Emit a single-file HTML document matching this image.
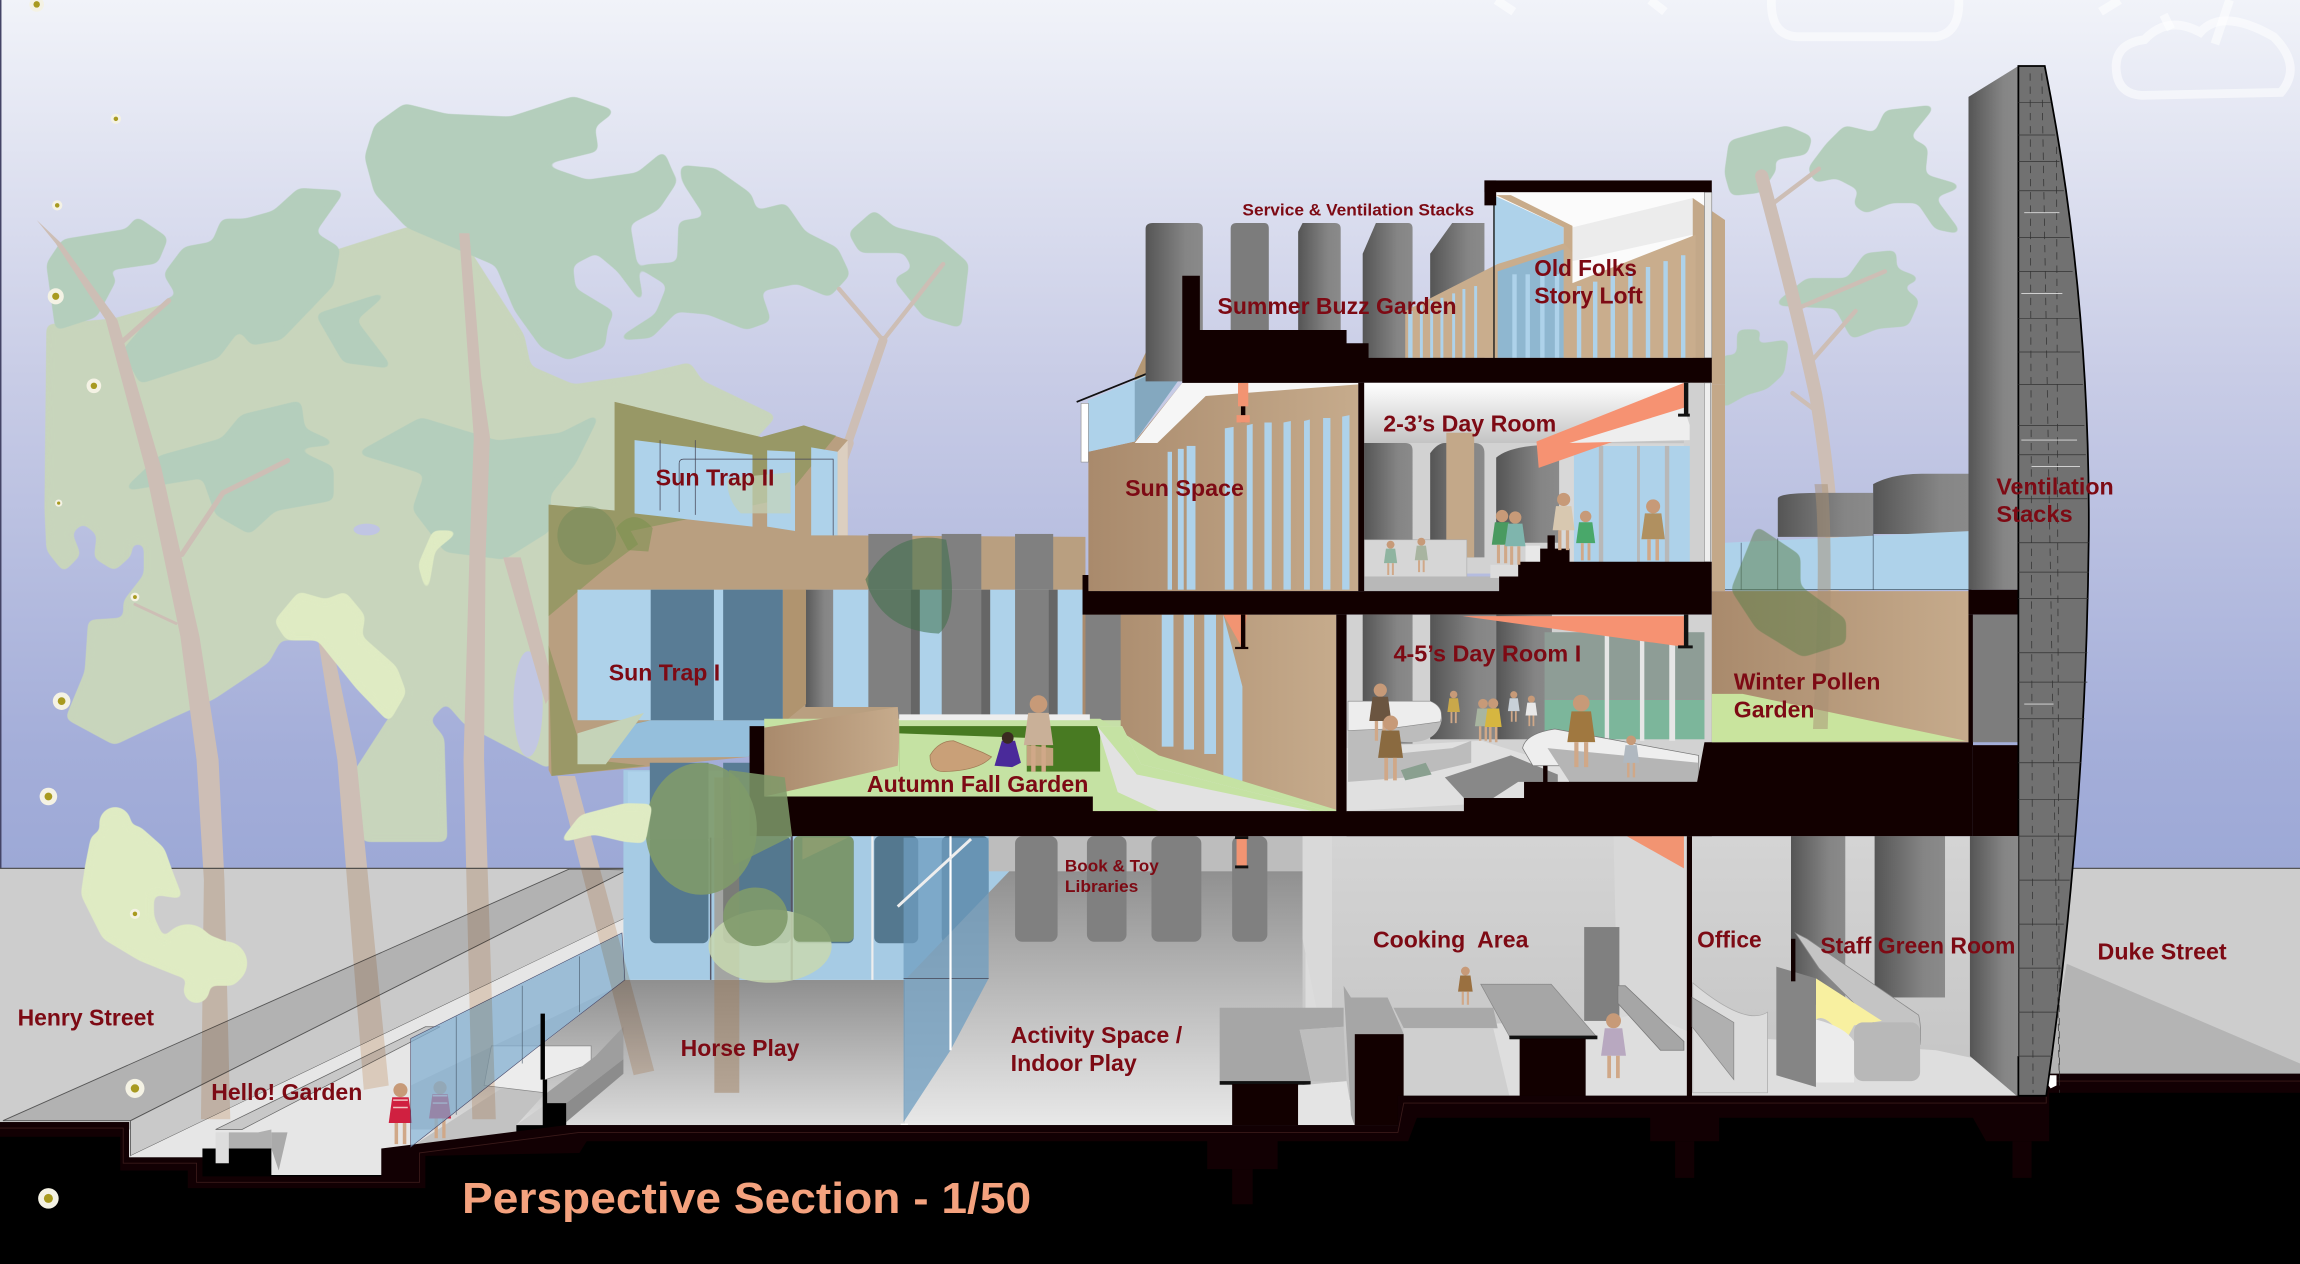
<!DOCTYPE html>
<html><head><meta charset="utf-8"><style>
html,body{margin:0;padding:0;background:#fff}
svg{display:block}
text{font-family:"Liberation Sans",sans-serif;font-weight:bold;fill:#7d0a14;font-size:15.5px}
</style></head><body>
<svg width="2300" height="1264" viewBox="0 0 1568 861.7" xmlns="http://www.w3.org/2000/svg">
<defs>
<linearGradient id="sky" x1="0" y1="0" x2="0" y2="1"><stop offset="0" stop-color="#f1f3f9"/><stop offset=".43" stop-color="#c8cce6"/><stop offset=".85" stop-color="#a4aed9"/><stop offset="1" stop-color="#9ca8d6"/></linearGradient>
<linearGradient id="tan" x1="0" y1="0" x2="1" y2="0"><stop offset="0" stop-color="#a98a6c"/><stop offset="1" stop-color="#c6ab8c"/></linearGradient>
<linearGradient id="col" x1="0" y1="0" x2="1" y2="0"><stop offset="0" stop-color="#555"/><stop offset=".7" stop-color="#858585"/><stop offset="1" stop-color="#8a8a8a"/></linearGradient>
<linearGradient id="floor" x1="0" y1="0" x2="0" y2="1"><stop offset="0" stop-color="#8f8f8f"/><stop offset="1" stop-color="#e8e8e8"/></linearGradient>
<linearGradient id="ceil" x1="0" y1="0" x2="0" y2="1"><stop offset="0" stop-color="#fff"/><stop offset="1" stop-color="#c4c4c4"/></linearGradient>
<linearGradient id="wall" x1="0" y1="0" x2="0" y2="1"><stop offset="0" stop-color="#d4d4d4"/><stop offset="1" stop-color="#c4c4c4"/></linearGradient>
<filter id="r" x="-10%" y="-10%" width="120%" height="120%" color-interpolation-filters="sRGB"><feGaussianBlur stdDeviation="2.6"/><feComponentTransfer><feFuncA type="linear" slope="10" intercept="-4.5"/></feComponentTransfer></filter>
<g id="k"><circle cx="0" cy="-23" r="3" fill="#c79a78"/><path d="M-3.5,-20 L3.5,-20 L5,-9 L-5,-9 Z" fill="currentColor"/><path d="M-2.5,-9 L-1,-9 L-1,0 L-2.5,0 Z M1,-9 L2.5,-9 L2.5,0 L1,0 Z" fill="#d0a888"/></g>
<g id="d"><circle r="5" fill="#f4f2e4"/><circle r="2.2" fill="#a89a20"/></g>
<g id="tr">
<polygon points="25,150 38,166 72,218 99,319 123,434 134,518 139,600 137,763 157,763 153,600 149,518 136,434 110,319 80,218 42,166"/>
<polygon points="313,159 320,257 323,298 320,380 316,518 322,763 338,763 330,518 331,380 334,298 328,257 320,159"/>
<polygon points="343,380 355,380 378,470 372,480"/>
<polygon points="380,529 392,529 446,730 432,733"/>
<polygon points="217,437 226,437 243,518 265,740 248,743 230,518"/>
</g>
<clipPath id="below"><rect x="0" y="592" width="1568" height="270"/></clipPath>
</defs>

<!-- sky -->
<rect width="1568" height="600" fill="url(#sky)"/>
<rect width="1" height="600" fill="#446"/>
<g fill="none" stroke="#fff" stroke-opacity=".55" stroke-width="6">
<path d="M1208,-5 Q1205,24 1225,25 L1320,25 Q1338,22 1335,-5"/>
<path d="M1020,0 L1032,8 M1125,0 L1135,8"/>
<path d="M1443,50 Q1440,30 1462,27 Q1478,10 1500,22 Q1515,5 1550,25 Q1570,45 1555,63 L1460,65 Q1445,64 1443,50 Z"/>
<path d="M1432,8 L1445,0 M1480,20 L1475,10 M1510,30 L1520,0"/>
</g>

<!-- tree mass (behind building, flat colours) -->
<polygon filter="url(#r)" fill="#c8d5bc" stroke="#c8d5bc" stroke-width="2" stroke-linejoin="round" points="32.6,222 31.3,347 32.6,375 43.5,388.7 54,378 48,363 56.5,355.6 67,364 65,380 78,388 89,378 89,370 99,370 99,392 85,410 85,422 61,423.5 58.7,458 45.7,489.5 78,507 115,489.5 145.7,475.7 182.6,451 191,435.6 217,435.6 278,472 265,491 241,528 248,573 304,573 302,503 292,491 304,478 317,493 374,523 420,400 528,284 478,260 470,248 435,256.5 391,263 361,250 356.5,228.7 308.7,154 278,155.7 230,171 126,204 78,218"/>
<g filter="url(#r)" fill="#b4cebc" stroke="#b4cebc" stroke-width="3" stroke-linejoin="round">
<polygon points="276,72 304,79 348,81 391,67 417,76 404,86 406.5,102 365,112 400,124 435,119 452,105 460,124 448,142 428,152 437,204 422,184 406.5,171 389,180 391,197.4 417,213 413,222 411,236 387,244 370,236 352,211 339,180 278,154 256.5,131 250,107 256.5,86"/>
<polygon points="465,114 487,116 511,133 515,145 535,140 548,159 570,170 578,187 565,201 543.5,192 517,197.4 524,218 509,223.5 483,213 461,211 443.5,229 424,230.5 448,215 456.5,194 437,182 463,180 464,152 483,149 467,124.4"/>
<polygon points="580,159 596,145 609,156 639,163 659,180 654,222 630.5,215 611,190.5 624,183.5 617,171 587,171"/>
<polygon points="33,180 43.5,164.4 87,157.4 93.5,149.4 113,162.6 106.5,178.3 69.6,183.5 78,190.5 65,215 39,223.5"/>
<polygon points="113,187 126,169.6 145.7,166 152,150.5 167.4,150.5 187,145 204,129.6 232.6,131.3 213,159 230.4,169.6 226,194 191,230.5 172,234 148,204.4 126,208"/>
<polygon points="85,239 115,204 148,204 172,211 148,243 96,260"/>
<polygon points="217,215 261,201 241,218 265,249.6 235,246"/>
<polygon points="87,333 109,312 152,300 165,284 204,274.6 206.5,293 226,302 196,305 226,319 226,340 187,347 170,362.6 148,350 139,324.4"/>
<polygon points="246,308.7 287,286 339,301.8 382.6,296.5 406.5,284.4 391,315.7 374,336.5 374,361 343.5,380 304,375 282.6,347 291,322.6 269.6,315.7"/>
<polygon points="1177,118 1180,97 1198,92 1218,87 1234,94 1231,104 1207,108 1210,115 1200,130 1181,132"/>
<polygon points="1234,115 1246,99 1258,87 1279,92 1286,76.5 1317,73 1300,94 1313,101 1311,120 1335,127 1317,134 1335,158 1320,155 1308,137 1289,137 1272,144 1265,139 1269,129 1252,120 1238,123"/>
<polygon points="1212,207 1232,191 1260,191 1272,174 1291.5,172 1291.5,184 1307,190 1294,195 1307,205 1300,221 1280,222.6 1263,229.5 1252,209"/>
<polygon points="1175,243.5 1185.6,243.5 1185.6,226 1199.7,226 1194,236.5 1218,233 1215,254 1204,264 1190,268 1175,276.5"/>
</g>
<ellipse cx="250" cy="361" rx="9" ry="4" fill="#c0c5e3"/>
<ellipse cx="360" cy="480" rx="10" ry="36" fill="#c2c7e2"/>
<!-- branches -->
<g fill="none" stroke="#cdbeb5" stroke-linecap="round">
<path d="M81,235 L115,205" stroke-width="3.5"/>
<path d="M124,378 L152,336 L196,314" stroke-width="3.5"/>
<path d="M92,412 L120,425" stroke-width="2"/>
<path d="M572,197 L602,232 L643,180" stroke-width="3"/>
<path d="M578,302 L602,232" stroke-width="6"/>
<path d="M578,302 L556,364" stroke-width="8"/>
<path d="M1207,140 L1240,115 M1226,210 L1285,185 M1236,245 L1265,212 M1222,268 L1238,280" stroke-width="3"/>
<path d="M1201,120 Q1225,210 1238,270 Q1250,340 1250,400" stroke-width="9"/>
</g>
<use href="#tr" fill="#cdbeb5"/>
<g filter="url(#r)" fill="#dfebc3" stroke="#dfebc3" stroke-width="2" stroke-linejoin="round">
<polygon points="188,423.5 204,404.3 222,409.6 235,404.3 248,420 245.7,434 269.6,455 276,472 265,491 243.5,468.7 217,435.6 195.7,435.6"/>
<polygon points="311,362.6 295.7,362.6 286,385 291,402.6 295.7,375"/>
</g>

<!-- ground -->
<path d="M0,592 L430,592 L430,770 L0,770 Z" fill="#cdcdcd"/>
<path d="M1395,592 L1568,592 L1568,735 L1395,735 Z" fill="#cdcdcd"/>
<path d="M1409,657 L1568,725 L1568,733 L1395,733 Z" fill="#b4b4b4"/>
<path d="M0,592 H425 M1395,592 H1568" stroke="#555" stroke-width=".8"/>
<path d="M2,764 L388,592.5 L428,593 L89,764 Z" fill="#b2b2b2" stroke="#555" stroke-width=".6"/>
<path d="M89,764 L428,593 L426,626 L89,788 Z" fill="#c9c9c9" stroke="#555" stroke-width=".6"/>
<path d="M89,788 L426,626 L426,670 L280,740 L280,783 L260,783 L260,801 L185,801 L185,783 L138,783 L138,789 L89,789 Z" fill="#e6e6e6"/>
<path d="M147,770 L290,700 L300,700 L165,770 Z" fill="#c8c8c8" stroke="#666" stroke-width=".5"/>
<path d="M147,783 L147,772 L156,772 L156,793 L147,793 Z" fill="#ddd"/>
<path d="M156,772 L176,772 L185,770 L185,783 L156,783 Z" fill="#b0b0b0"/>
<path d="M185,783 L185,772 L196,772 L190,798 Z" fill="#aaa"/>
<path d="M280,782 L426,668 L617,668 L617,767 L386,767 L386,752 L373,752 L352,767 L352,783 Z" fill="url(#floor)"/>
<path d="M280,782 L352,782 L352,767 L372,745 L345,740 Z" fill="#c2c2c2"/>
<path d="M335,713 L403,713 L403,725 L372,736 L372,745 L330,740 Z" fill="#ececec" stroke="#888" stroke-width=".5"/>
<path d="M372,752 L386,752 L425,722 L425,700 L406,720 L373,745 Z" fill="#9e9e9e"/>
<path d="M386,752 L425,722 L425,732 L386,765 Z" fill="#8c8c8c"/>

<!-- ground floor back -->
<rect x="425" y="525" width="265" height="143" fill="#a6cbe4"/>
<g fill="#54788f">
<rect x="443" y="570" width="40" height="73" rx="4"/><rect x="493" y="570" width="46" height="73" rx="4"/><rect x="541" y="570" width="41" height="73" rx="4"/><rect x="596" y="570" width="30" height="73" rx="4"/><rect x="642" y="570" width="32" height="73" rx="4"/>
</g>
<rect x="484" y="570" width="1" height="98" fill="#556"/><rect x="539" y="570" width="1.5" height="98" fill="#556"/><rect x="594" y="570" width="1.5" height="98" fill="#eee"/>
<path d="M617,668 L690,592 L888,592 L915,700 L915,767 L617,767 Z" fill="url(#floor)"/>
<rect x="674" y="570" width="216" height="24" fill="#bdbdbd"/>
<g fill="#808080"><rect x="692" y="570" width="29" height="72" rx="5"/><rect x="741" y="570" width="27" height="72" rx="5"/><rect x="785" y="570" width="34" height="72" rx="5"/><rect x="840" y="570" width="24" height="72" rx="5"/></g>
<path d="M616,571 L674,571 L674,667 L648,716 L616,765 Z" fill="#6f9dc0" fill-opacity=".75"/>
<path d="M616,667 L674,667" stroke="#445" stroke-width=".5"/>
<path d="M648,570 V716" stroke="#fff" stroke-width="1.5"/>
<path d="M612,618 L662,572" stroke="#eee" stroke-width="2"/>
<rect x="614" y="766" width="5" height="5" fill="#fff"/>
<path d="M547,571 L578,571 L547,586 Z" fill="#f4b8a0"/>

<!-- cooking / office / staff -->
<rect x="888" y="570" width="490" height="180" fill="url(#wall)"/>
<rect x="890" y="570" width="18" height="125" fill="#dcdcdc"/>
<path d="M888,570 L888,640 L908,740 L908,570 Z" fill="#d9d9d9"/>
<path d="M1100,570 L1150,570 L1150,748 L1104,748 Z" fill="#d8d8d8"/>
<path d="M957,747 L1376,747 L1376,728 L1320,716 L1155,705 L1120,690 L1100,695 L957,700 Z" fill="#dedede"/>
<path d="M1109,570 L1148,570 L1148,592 Z" fill="#f29472"/>
<rect x="843" y="570" width="7" height="22" fill="#f29472"/><rect x="842" y="570" width="9" height="2" fill="#111"/><rect x="842" y="590" width="9" height="2" fill="#111"/>
<rect x="1080" y="632" width="24" height="64" fill="#808080"/>
<path d="M1103,672 L1108,672 L1148,710 L1148,716 L1132,716 L1103,684 Z" fill="#a6a6a6" stroke="#777" stroke-width=".5"/>
<path d="M831.5,687 L916,687 L916,700 L886,702 L893.7,737 L831.5,737 Z" fill="#a6a6a6"/>
<rect x="831.5" y="737" width="62" height="2.5" fill="#111"/>
<rect x="840" y="739" width="45" height="28" fill="#120000"/>
<path d="M886,702 L916,700 L918,738 L894,737 Z" fill="#bdbdbd"/>
<path d="M885,740 L918,737 L923,767 L885,767 Z" fill="#e4e4e4"/>
<path d="M916,672 L921,680 L946,680 L957,705 L923.6,705 L923.6,768 L921,760 Z" fill="#a6a6a6"/>
<rect x="923.6" y="705" width="33.4" height="62" fill="#120000"/>
<path d="M950,687 L1018,687 L1021,701 L957,701 Z" fill="#a9a9a9"/>
<path d="M957,701 L1018,701 L1029,747 L957,747 Z" fill="#cfcfcf"/>
<path d="M1009.5,671 L1057.5,671 L1088.6,707 L1029.3,707 Z" fill="#a6a6a6" stroke="#888" stroke-width=".5"/>
<rect x="1029" y="706" width="60" height="2.5" fill="#111"/>
<rect x="1036" y="708" width="45" height="40" fill="#120000"/>
<rect x="1150" y="570" width="3.5" height="178" fill="#120000"/>
<path d="M1154,670 Q1190,700 1205,690 L1205,745 L1154,745 Z" fill="#dcdcdc" stroke="#aaa" stroke-width=".5"/>
<path d="M1153.6,680 L1182,697 L1182,736 L1153.6,700 Z" fill="#b0b0b0" stroke="#888" stroke-width=".5"/>
<g fill="url(#col)"><rect x="1221" y="570" width="37" height="115"/><rect x="1278" y="570" width="48" height="110"/></g>
<path d="M1343,570 L1376,570 L1376,748 L1343,720 Z" fill="url(#col)"/>
<path d="M1224,636 L1232,640 L1308,692 Q1310,700 1309,712 L1280,700 L1240,660 Z" fill="#c4c4c4" stroke="#888" stroke-width=".5"/>
<path d="M1238,667 L1283,696 L1264,699 L1258,710 Q1245,690 1238,695 Z" fill="#f8f0a0"/>
<path d="M1238,695 Q1258,700 1264,710 L1264,738 L1238,738 Z" fill="#ececec"/>
<rect x="1264" y="697" width="45" height="40" rx="6" fill="#b8b8b8"/>
<path d="M1211,659 L1238,667 L1238,741 L1211,733 Z" fill="#858585"/>
<rect x="1221" y="640" width="3" height="29" fill="#120000"/>

<!-- foundation black -->
<path d="M0,765 L88,765 L88,789 L138,789 L138,783 L147,783 L147,793 L156,793 L156,783 L185,783 L185,801 L260,801 L260,783 L352,783 L352,767 L370,767 L370,736 L373,736 L373,752 L386,752 L386,767 L953,767 L953,747 L1376,747 L1395,732 L1568,732 L1568,862 L0,862 Z" fill="#000"/>
<path d="M0,765 L88,765 L88,789 L138,789 L138,802 L260,802 L260,783 L386,767 L953,767 L953,747 L1376,747 L1395,732 L1568,732 L1568,745 L1397,745 L1397,778 L1354,778 L1345,762 L1172,762 L1172,778 L1125,778 L1125,762 L966,762 L960,778 L871,778 L871,797 L823,797 L823,778 L400,778 L395,786 L290,788 L290,810 L128,810 L128,798 L82,798 L82,775 L0,775 Z" fill="#120003"/>
<path d="M0,769 L84,769 L84,793 L134,793 L134,806 L286,806 L286,786 L395,772 L953,772 L957,752 L1395,752 L1395,737 L1568,737" fill="none" stroke="#3a1a1a" stroke-width=".6"/>
<g fill="#120003"><rect x="840" y="797" width="14" height="24"/><rect x="1142" y="778" width="13" height="25"/><rect x="1372" y="778" width="13" height="25"/></g>
<path d="M1395,733 L1402,733 L1402,740 L1398,742 L1395,738 Z" fill="#fff"/>

<!-- autumn back -->
<rect x="548" y="402" width="192" height="85" fill="#aed2ea"/>
<path d="M548,402 H568 V487 H549 Z" fill="url(#col)"/>
<rect x="592" y="402" width="35" height="90" fill="#808080"/>
<rect x="621" y="402" width="6" height="90" fill="#666"/>
<rect x="642" y="402" width="33" height="90" fill="#808080"/>
<rect x="669" y="402" width="6" height="90" fill="#666"/>
<rect x="692" y="402" width="29" height="90" fill="#808080"/>
<rect x="715" y="402" width="6" height="90" fill="#666"/>
<rect x="740" y="402" width="10" height="90" fill="#808080"/>

<!-- sun trap -->
<path d="M374,344 L419,348 L419,274 L519,298 L548,290 L578,300 L578,365 L740,366 L740,402 L549,402 L549,482 L612,482 L612,495 L533,495 L510,516 L376,529 L374,525 Z" fill="#b99f80"/>
<path d="M374,344 L419,348 L419,274 L519,298 L548,290 L570,297 L535,340 L430,362 L435,371 L411,389 L374,420 Z" fill="#76904a" opacity=".48"/>
<path d="M374,440 L393.7,502 L443,491 L394,517 L440,522 L376,529 Z" fill="#76904a" opacity=".45"/>
<circle cx="400" cy="365" r="20" fill="#6f8a58" opacity=".45"/>
<path d="M420,360 Q432,345 445,360 L442,376 L428,375 Z" fill="#76904a" opacity=".5"/>
<path d="M432.6,300 L513,310 L513,359 L432.6,350 Z" fill="#aed2ea"/>
<path d="M523,307 L542,308 L542,362 L523,359 Z" fill="#aed2ea"/>
<path d="M553,305 L571,308 L571,365 L553,365 Z" fill="#aed2ea"/>
<path d="M571,308 L578,300 L578,365 L571,365 Z" fill="#fff" fill-opacity=".5"/>
<path d="M496,326 L539,322 L539,350 L505,350 Q495,340 496,326 Z" fill="#c5d3b8" opacity=".7"/>
<path d="M463,349 V316 Q463,313 466,313 L568,313 V365 M450,348 V300 M474,351 V300" fill="none" stroke="#445" stroke-width=".5"/>
<rect x="393.7" y="402" width="140" height="89" fill="#aed2ea"/>
<path d="M393.7,502 L443.6,491 L533.7,491 L510,516 L393.7,517 Z" fill="#95bfdc"/>
<rect x="443.6" y="402" width="43.1" height="89" fill="#597c95"/>
<rect x="493" y="402" width="40.7" height="89" fill="#597c95"/>
<path d="M393.7,500 L439,486 L413,521 L393.7,521 Z" fill="#c5d3b8"/>
<path d="M533.7,402 L549.5,402 L549.5,480 L533.7,493 Z" fill="#b0946f"/>
<rect x="428" y="526" width="82" height="45" fill="#aed2ea"/>
<g fill="#597c95"><rect x="443" y="520" width="40" height="52"/><rect x="493" y="520" width="40" height="52"/></g>
<g fill="#808080"><rect x="592" y="364" width="30" height="38"/><rect x="642" y="364" width="27" height="38"/><rect x="692" y="364" width="26" height="38"/></g>

<!-- sun space lower -->
<rect x="738" y="419" width="173" height="135" fill="url(#tan)"/>
<rect x="740" y="419" width="24" height="72" fill="#808080"/>
<path d="M740,491 H764 V500 H740 Z" fill="#c6dfa8"/>
<g fill="#aed2ea"><rect x="792" y="419" width="8" height="90"/><rect x="807" y="419" width="7" height="92"/><rect x="821" y="419" width="8" height="95"/><path d="M834,419 L847,468 L847,535 L834,530 Z"/></g>
<path d="M834,419 L850,419 L847,442 Z" fill="#f29472"/>
<rect x="846" y="419" width="3" height="23" fill="#120000"/><rect x="842" y="441" width="9" height="1.5" fill="#120000"/>

<!-- autumn floor -->
<path d="M521,543 L521,490 L750,490 L790,515 L911,552 L911,553 L745,553 L745,543 Z" fill="#c5e2a3"/>
<rect x="613" y="487" width="130" height="4" fill="#eee"/>
<rect x="613" y="495" width="137" height="31" fill="#487a22"/>
<path d="M613,500 L700,503 L700,532 L613,530 Z" fill="#c5e2a3"/>
<path d="M700,508 L718,510 L718,522 L700,522 Z" fill="#c3a27e"/>
<path d="M634,515 Q640,505 650,505 L670,513 L676,516 Q668,525 645,526 Q634,527 634,515 Z" fill="#c9a078" stroke="#a07c56" stroke-width=".5"/>
<path d="M748,495 L765,495 L778,521 L905,553 L790,553 L762,540 Z" fill="#e2e2e2"/>
<path d="M748,495 L765,495 L778,521 L905,553 L895,553 L775,528 Z" fill="#c5e2a3"/>
<path d="M521,496 L612,482 Q614,500 612,522 Q600,525 521,543 Z" fill="url(#tan)"/>
<path d="M511,495 L521,495 L521,543 L745,543 L745,553 L1167,553 L1167,570 L511,570 Z" fill="#120000"/>

<!-- upper left wall: sun space -->
<path d="M742,308 L773.6,301 L806,261 L926,261 L926,403 L742,403 Z" fill="url(#tan)"/>
<path d="M773.6,302 L806,261 L926,261 L926,262 L822,270 L789,302 Z" fill="#f6f6f6"/>
<g fill="#aed2ea"><path d="M835,292 L841,291 L841,402 L835,402 Z"/><path d="M850,290 L854,289 L854,402 L850,402 Z"/><path d="M862,288 L867,288 L867,402 L862,402 Z"/><path d="M875,288 L880,287 L880,402 L875,402 Z"/><path d="M889,287 L893,286 L893,402 L889,402 Z"/><path d="M902,285 L907,285 L907,402 L902,402 Z"/><path d="M915,284 L920,283 L920,402 L915,402 Z"/><rect x="796" y="308" width="3" height="94"/><rect x="803" y="306" width="4" height="96"/><rect x="809" y="304" width="6" height="98"/></g>
<path d="M773.6,256 L806,188 L806,245 L773.6,260 Z" fill="#b39774"/>
<path d="M741.7,273 L806.5,245 L806.5,255 L773.6,301 L741.7,308 Z" fill="#aed2ea"/>
<path d="M773.6,260 L806.5,245 L806.5,255 L773.6,301 Z" fill="#84a8bf"/>
<path d="M734,274 L806,245" stroke="#111" stroke-width="1.2"/>
<rect x="737" y="275" width="5" height="40" fill="#fff" stroke="#888" stroke-width=".4"/>
<rect x="844" y="261" width="7" height="16" fill="#f29472"/><rect x="846" y="277" width="3" height="11" fill="#120000"/><rect x="843" y="283" width="9" height="5" fill="#f29472"/>

<!-- service stacks -->
<path d="M781,156 Q781,152 786,152 L816,152 Q820,152 820,156 L820,260 L781,260 Z" fill="url(#col)"/>
<path d="M839,156 Q839,152 843,152 L862,152 Q865,152 865,156 L865,230 L839,230 Z" fill="#7c7c7c"/>
<path d="M885,158 L888,152 L910,152 Q914,152 914,156 L914,230 L885,230 Z" fill="url(#col)"/>
<path d="M929,173 L938,152 L960,152 Q963,152 963,156 L963,246 L929,246 Z" fill="url(#col)"/>
<path d="M975,173 L990,152 L1012,152 L1012,246 L975,246 Z" fill="url(#col)"/>

<!-- loft -->
<path d="M1018,131 L1166,131 L1166,244 L1018,244 Z" fill="#fbfbfb"/>
<path d="M1072,155 L1154,135 L1154,160 L1072,178 Z" fill="#ececec"/>
<path d="M1018,133 L1066,155 L1066,168 L1018,190 Z" fill="#aed2ea"/>
<path d="M1020,133 L1030,133 L1072,154 L1072,172 L1066,172 L1066,155 Z" fill="#c8ab8a"/>
<path d="M1154,135 L1176,150 L1176,262 L1154,262 Z" fill="#c3a889"/>
<path d="M958,212 L1021,180 L1066,166 L1072,172 L1072,193 L1156,160 L1156,244 L958,244 Z" fill="#c9ad8d"/>
<path d="M1021,185 L1066,170 L1066,244 L1021,244 Z" fill="#8fb7d0"/>
<g fill="#aed2ea">
<rect x="960" y="212" width="3" height="32"/><rect x="968" y="208" width="2" height="36"/><rect x="975" y="205" width="2" height="39"/><rect x="982" y="203" width="2" height="41"/><rect x="990" y="200" width="2" height="44"/><rect x="997" y="197" width="2" height="47"/><rect x="1005" y="195" width="2" height="49"/>
<rect x="1031" y="187" width="3" height="57"/><rect x="1040" y="187" width="3" height="57"/><rect x="1050" y="187" width="3" height="57"/><rect x="1060" y="187" width="3" height="57"/>
<rect x="1075" y="195" width="3" height="49"/><rect x="1086" y="192" width="3" height="52"/><rect x="1098" y="188" width="3" height="56"/><rect x="1110" y="185" width="3" height="59"/><rect x="1122" y="182" width="3" height="62"/><rect x="1134" y="178" width="3" height="66"/><rect x="1146" y="174" width="3" height="70"/>
</g>
<rect x="1018" y="135" width="1" height="110" fill="#222"/>
<rect x="1162" y="131" width="5" height="113" fill="#e8e8e8" stroke="#777" stroke-width=".4"/>
<rect x="1012" y="123" width="155" height="8" fill="#120000"/><rect x="1012" y="123" width="8" height="17" fill="#120000"/>
<path d="M806,188 L818,188 L818,225 L918,225 L918,234 L933,234 L933,244 L1167,244 L1167,261 L806,261 Z" fill="#120000"/>

<!-- 2-3 room -->
<rect x="930" y="261" width="237" height="130" fill="#d2d2d2"/>
<rect x="930" y="261" width="218" height="41" fill="url(#ceil)"/>
<path d="M930,302 Q935,302 938,302 L958,302 Q963,302 963,307 L963,368 L930,368 Z" fill="url(#col)"/>
<path d="M975,309 Q980,302 985,302 L1005,302 Q1012,302 1012,309 L1012,380 L975,380 Z" fill="url(#col)"/>
<rect x="986" y="295" width="19" height="85" fill="#c3a889"/>
<path d="M1020,312 Q1030,303 1063,303 L1063,370 L1020,370 Z" fill="url(#col)"/>
<rect x="1063" y="303" width="85" height="80" fill="#d8d8d8"/>
<rect x="1073" y="304" width="80" height="80" fill="#aed2ea"/>
<g fill="#b8b8b8"><rect x="1090" y="304" width="3" height="80"/><rect x="1116" y="304" width="2" height="80"/><rect x="1135" y="304" width="3" height="80"/></g>
<path d="M1047.5,301 L1148,261 L1148,284 L1049,319 Z" fill="#f69272"/>
<path d="M1070,302 L1148,278 L1152,290 L1152,300 Z" fill="#eee"/>
<rect x="1148" y="261" width="3" height="22" fill="#111"/><rect x="1144" y="282" width="10" height="2" fill="#111"/>
<rect x="1152" y="261" width="15" height="122" fill="#d0d0d0"/><rect x="1162" y="261" width="4" height="122" fill="#eee" stroke="#888" stroke-width=".4"/>
<rect x="930" y="368" width="70" height="26" fill="#d6d6d6" stroke="#aaa" stroke-width=".4"/>
<rect x="930" y="393" width="92" height="10" fill="#b8b8b8"/>
<rect x="1016" y="385" width="20" height="9" fill="#dcdcdc"/>
<rect x="1040" y="372" width="10" height="14" fill="#e8e8e8"/>
<path d="M738,403 L738,392 L742,392 L742,403 L1022,403 L1022,393 L1035,393 L1035,383 L1050,383 L1050,374 L1055,374 L1055,365 L1060,365 L1060,374 L1070,374 L1070,383 L1167,383 L1167,419 L738,419 Z" fill="#120000"/>
<rect x="926" y="261" width="4" height="142" fill="#120000"/>

<!-- 4-5 room -->
<rect x="918" y="419" width="249" height="135" fill="#d2d2d2"/>
<rect x="929" y="419" width="34" height="88" fill="url(#col)"/>
<rect x="975" y="419" width="45" height="85" fill="url(#col)"/>
<rect x="1020" y="419" width="38" height="85" fill="url(#col)"/>
<rect x="1053" y="431" width="109" height="46" fill="#8e9d96"/>
<rect x="1053" y="477" width="109" height="27" fill="#7cb69b"/>
<path d="M1053,477 L1162,477" stroke="#999" stroke-width=".5"/>
<g fill="#e6e6e6"><rect x="1094" y="431" width="3" height="74"/><rect x="1118" y="431" width="3" height="74"/><rect x="1138" y="431" width="4" height="74"/></g>
<path d="M997,420 L1148,420 L1148,441 Z" fill="#f69272"/>
<rect x="1148" y="419" width="3" height="22" fill="#111"/><rect x="1144" y="440" width="10" height="2" fill="#111"/>
<path d="M918,510 L1010,505 L1058,520 L1158,525 L1158,534 L1070,534 L1060,545 L918,553 Z" fill="#e0e0e0"/>
<path d="M919,478 Q985,478 983,490 Q980,510 950,505 L950,514 L990,510 L1003,505 L1003,520 L960,530 L919,533 Z" fill="#bcbcbc"/>
<path d="M919,478 H975 Q985,482 982,492 L945,497 L919,498 Z" fill="#ededed" stroke="#888" stroke-width=".4"/>
<path d="M985,530 L1030,515 L1062,528 L1062,533 L1035,533 L1018,544 L998,544 Z" fill="#888"/>
<path d="M1038,510 Q1040,500 1060,497 L1158,515 L1158,533 L1070,533 L1070,522 L1045,522 Z" fill="#eee" stroke="#777" stroke-width=".5"/>
<path d="M1055,510 L1158,520 L1158,533 L1070,533 Z" fill="#b5b5b5"/>
<path d="M918,553 L998,553 L998,544 L1039,544 L1039,533 L1052,533 L1052,522 L1055,522 L1055,533 L1157,533 L1162,506 L1345,506 L1345,570 L918,570 Z" fill="#120000"/>
<rect x="911" y="419" width="7" height="135" fill="#120000"/>

<!-- winter garden -->
<path d="M1212,340 Q1212,336 1240,336 L1277,336 L1277,366 L1212,366 Z" fill="url(#col)"/>
<path d="M1277,330 Q1290,323 1310,323 L1342,323 L1342,364 L1277,364 Z" fill="url(#col)"/>
<rect x="1167" y="403" width="175" height="103" fill="url(#tan)"/>
<path d="M1167,473 L1188,473 L1340,505 L1167,506 Z" fill="#c9e49e"/>
<path d="M1167,262 H1176 V403 H1167 Z" fill="#c3a889"/>
<path d="M1176,370 L1344,362 L1344,402 L1176,402 Z" fill="#aed2ea"/>
<path d="M1187,370 V402 M1212,367 V402 M1277,364 V402 M1176,402 H1344" stroke="#345" stroke-width=".4" fill="none"/>
<path d="M1246,330 Q1250,370 1246,497 L1236,497 Q1242,370 1237,330 Z" fill="#a89074" opacity=".5"/>
<g opacity=".5"><polygon filter="url(#r)" points="1181,402 1198,360 1226.5,379 1226.5,400 1257.6,422.6 1257.6,438 1229,447 1198,428" fill="#5a7f4a" stroke="#5a7f4a" stroke-width="2" stroke-linejoin="round"/></g>
<rect x="1342" y="402" width="35" height="17" fill="#120000"/>
<rect x="1345" y="419" width="31" height="87" fill="#7d7d7d"/>
<rect x="1342" y="419" width="3" height="90" fill="#120000"/>
<rect x="1345" y="508" width="31" height="62" fill="#120000"/>

<!-- stack -->
<path d="M1342,66 L1376,45 L1376,402 L1342,402 Z" fill="url(#col)"/>
<path d="M1376,45 L1394,45 Q1425,200 1424,365 Q1422,560 1395,747 L1376,747 Z" fill="#717171" stroke="#000" stroke-width="1.2"/>
<rect x="1343" y="570" width="33" height="150" fill="url(#col)"/>
<g stroke="#333" stroke-width=".5" fill="none">
<path d="M1376,70 H1398 M1376,92 H1401 M1376,110 H1404 M1376,130 H1407 M1376,162 H1411 M1376,185 H1413 M1376,217 H1417 M1376,240 H1418 M1376,262 H1420 M1376,290 H1421 M1376,310 H1422 M1376,340 H1423 M1376,370 H1424 M1376,390 H1424 M1376,408 H1424 M1376,445 H1423 M1376,465 H1423 M1376,490 H1421 M1376,520 H1419 M1376,545 H1417 M1376,570 H1414 M1376,600 H1411 M1376,630 H1407 M1376,660 H1405 M1376,690 H1402 M1376,720 H1399"/>
<path d="M1384,50 L1386,745 M1392,50 L1404,745 M1402,100 L1404,740" stroke-dasharray="5 4"/>
</g>
<g stroke="#ddd" stroke-width=".6"><path d="M1380,145 H1404 M1378,200 H1406 M1378,300 H1416 M1385,318 H1418 M1380,480 H1400"/></g>

<!-- people -->
<g>
<use href="#k" transform="translate(948,392) scale(.9)" color="#8fb4a0"/>
<use href="#k" transform="translate(969,390) scale(.9)" color="#a8b4a0"/>
<use href="#k" transform="translate(1024,384) scale(1.4)" color="#4a9a60"/>
<use href="#k" transform="translate(1033,385) scale(1.4)" color="#7fb5ad"/>
<use href="#k" transform="translate(1066,375) scale(1.5)" color="#d8c8b0"/>
<use href="#k" transform="translate(1081,382) scale(1.3)" color="#49a86a"/>
<use href="#k" transform="translate(1127,382) scale(1.6)" color="#b09060"/>
<use href="#k" transform="translate(941,505) scale(1.5)" color="#6b5540"/>
<use href="#k" transform="translate(948,532) scale(1.7)" color="#8a6a40"/>
<use href="#k" transform="translate(991,493) scale(.85)" color="#c9a84a"/>
<use href="#k" transform="translate(1011,505) scale(1.1)" color="#a8b5a0"/>
<use href="#k" transform="translate(1018,506) scale(1.15)" color="#d6b640"/>
<use href="#k" transform="translate(1032,492) scale(.8)" color="#c8d0d8"/>
<use href="#k" transform="translate(1044,495) scale(.8)" color="#e8e8e8"/>
<use href="#k" transform="translate(1078,523) scale(1.9)" color="#a07840"/>
<use href="#k" transform="translate(1112,530) scale(1.1)" color="#b0b8c0"/>
<path d="M955,525 L972,520 L976,528 L958,532 Z" fill="#8aa090"/>
<use href="#k" transform="translate(708,526) scale(2)" color="#c9b098"/>
<path d="M678,522 L683,505 L692,505 L696,520 L690,523 Z" fill="#4a2a9a"/><circle cx="687" cy="503" r="4" fill="#3a2a20"/>
<use href="#k" transform="translate(999,685) scale(1)" color="#9a7040"/>
<use href="#k" transform="translate(1100,735) scale(1.7)" color="#b8a8c0"/>
<use href="#k" transform="translate(273,780) scale(1.6)" color="#d02040"/>
<use href="#k" transform="translate(300,776) scale(1.5)" color="#d02040"/>
<path d="M268,750 H278 M268,755 H278 M295,747 H305 M295,752 H305" stroke="#f0c0c0" stroke-width="1"/>
</g>
<path d="M280,708 L424,636 L426,668 L365,715 L280,782 Z" fill="#7fadd0" fill-opacity=".72" stroke="#446" stroke-width=".4"/>
<path d="M311,693 V760 M356,672 V725 M395,652 V690" stroke="#456" stroke-width=".4"/>
<path d="M370,691 V736" stroke="#000" stroke-width="3"/>

<!-- trunks over ground and floors -->
<use href="#tr" clip-path="url(#below)" fill="#f2e0d0" style="mix-blend-mode:multiply"/>
<rect x="487" y="530" width="17" height="215" fill="#a08060" opacity=".5"/>

<!-- foliage in front -->
<ellipse cx="525" cy="645" rx="42" ry="25" fill="#c8d8b0" opacity=".85"/>
<ellipse cx="478" cy="565" rx="38" ry="45" fill="#7f9a6a" opacity=".9"/>
<rect x="541" y="570" width="41" height="72" rx="4" fill="#7f9a6a" opacity=".9"/>
<ellipse cx="515" cy="625" rx="22" ry="20" fill="#7f9a6a" opacity=".9"/>
<path d="M497,525 L535,530 L540,570 L500,590 Z" fill="#7f9a6a" opacity=".85"/>
<polygon filter="url(#r)" points="380.4,575 395.6,555.5 426,547.5 445,548 440,575 426,574 405,569" fill="#dfebc3"/>
<path d="M590,395 Q610,360 645,368 Q655,420 640,432 Q600,430 590,395 Z" fill="#3e6f48" opacity=".55"/>
<g fill="#dfebc3" filter="url(#r)">
<polygon points="58,590 62,570 75,562 95,563 112,578 118,595 125,613 105,610 105,625 112,640 125,632 150,640 168,655 160,672 140,672 120,665 95,655 70,640 55,610"/>
<circle cx="78.5" cy="561" r="11"/><circle cx="153.7" cy="656.6" r="15"/><circle cx="134" cy="675" r="9"/><circle cx="128" cy="648" r="18"/>
</g>

<!-- daisies -->
<use href="#d" transform="translate(25,3)"/><use href="#d" transform="translate(79,81) scale(.7)"/><use href="#d" transform="translate(39,140) scale(.7)"/><use href="#d" transform="translate(38,202) scale(1.1)"/><use href="#d" transform="translate(64,263) scale(1)"/><use href="#d" transform="translate(40,343) scale(.5)"/><use href="#d" transform="translate(92,407) scale(.6)"/><use href="#d" transform="translate(42,478) scale(1.2)"/><use href="#d" transform="translate(33,543) scale(1.2)"/><use href="#d" transform="translate(92,623) scale(.7)"/><use href="#d" transform="translate(92,742) scale(1.3)"/><use href="#d" transform="translate(33,817) scale(1.4)"/>

<!-- labels -->
<text x="847" y="147" style="font-size:11.5px" textLength="158" lengthAdjust="spacingAndGlyphs">Service &amp; Ventilation Stacks</text>
<text x="830" y="214" textLength="163" lengthAdjust="spacingAndGlyphs">Summer Buzz Garden</text>
<text x="1046" y="188" textLength="70" lengthAdjust="spacingAndGlyphs">Old Folks</text>
<text x="1046" y="207" textLength="74" lengthAdjust="spacingAndGlyphs">Story Loft</text>
<text x="943" y="294" textLength="118" lengthAdjust="spacingAndGlyphs">2-3’s Day Room</text>
<text x="767" y="338" textLength="81" lengthAdjust="spacingAndGlyphs">Sun Space</text>
<text x="447" y="331" textLength="81" lengthAdjust="spacingAndGlyphs">Sun Trap II</text>
<text x="415" y="464" textLength="76" lengthAdjust="spacingAndGlyphs">Sun Trap I</text>
<text x="950" y="451" textLength="128" lengthAdjust="spacingAndGlyphs">4-5’s Day Room I</text>
<text x="1182" y="470" textLength="100" lengthAdjust="spacingAndGlyphs">Winter Pollen</text>
<text x="1182" y="489" textLength="55" lengthAdjust="spacingAndGlyphs">Garden</text>
<text x="1361" y="337" textLength="80" lengthAdjust="spacingAndGlyphs">Ventilation</text>
<text x="1361" y="356" textLength="52" lengthAdjust="spacingAndGlyphs">Stacks</text>
<text x="591" y="540" textLength="151" lengthAdjust="spacingAndGlyphs">Autumn Fall Garden</text>
<text x="726" y="594" style="font-size:11.5px" textLength="64" lengthAdjust="spacingAndGlyphs">Book &amp; Toy</text>
<text x="726" y="608" style="font-size:11.5px" textLength="50" lengthAdjust="spacingAndGlyphs">Libraries</text>
<text x="936" y="646" xml:space="preserve" textLength="106" lengthAdjust="spacingAndGlyphs">Cooking  Area</text>
<text x="1157" y="646" textLength="44" lengthAdjust="spacingAndGlyphs">Office</text>
<text x="1241" y="650" textLength="133" lengthAdjust="spacingAndGlyphs">Staff Green Room</text>
<text x="1430" y="654" textLength="88" lengthAdjust="spacingAndGlyphs">Duke Street</text>
<text x="12" y="699" textLength="93" lengthAdjust="spacingAndGlyphs">Henry Street</text>
<text x="464" y="720" textLength="81" lengthAdjust="spacingAndGlyphs">Horse Play</text>
<text x="144" y="750" textLength="103" lengthAdjust="spacingAndGlyphs">Hello! Garden</text>
<text x="689" y="711" textLength="117" lengthAdjust="spacingAndGlyphs">Activity Space /</text>
<text x="689" y="730" textLength="86" lengthAdjust="spacingAndGlyphs">Indoor Play</text>
<text x="315" y="827" style="font-size:30px;fill:#f4a27e" textLength="388" lengthAdjust="spacingAndGlyphs">Perspective Section - 1/50</text>
</svg>
</body></html>
